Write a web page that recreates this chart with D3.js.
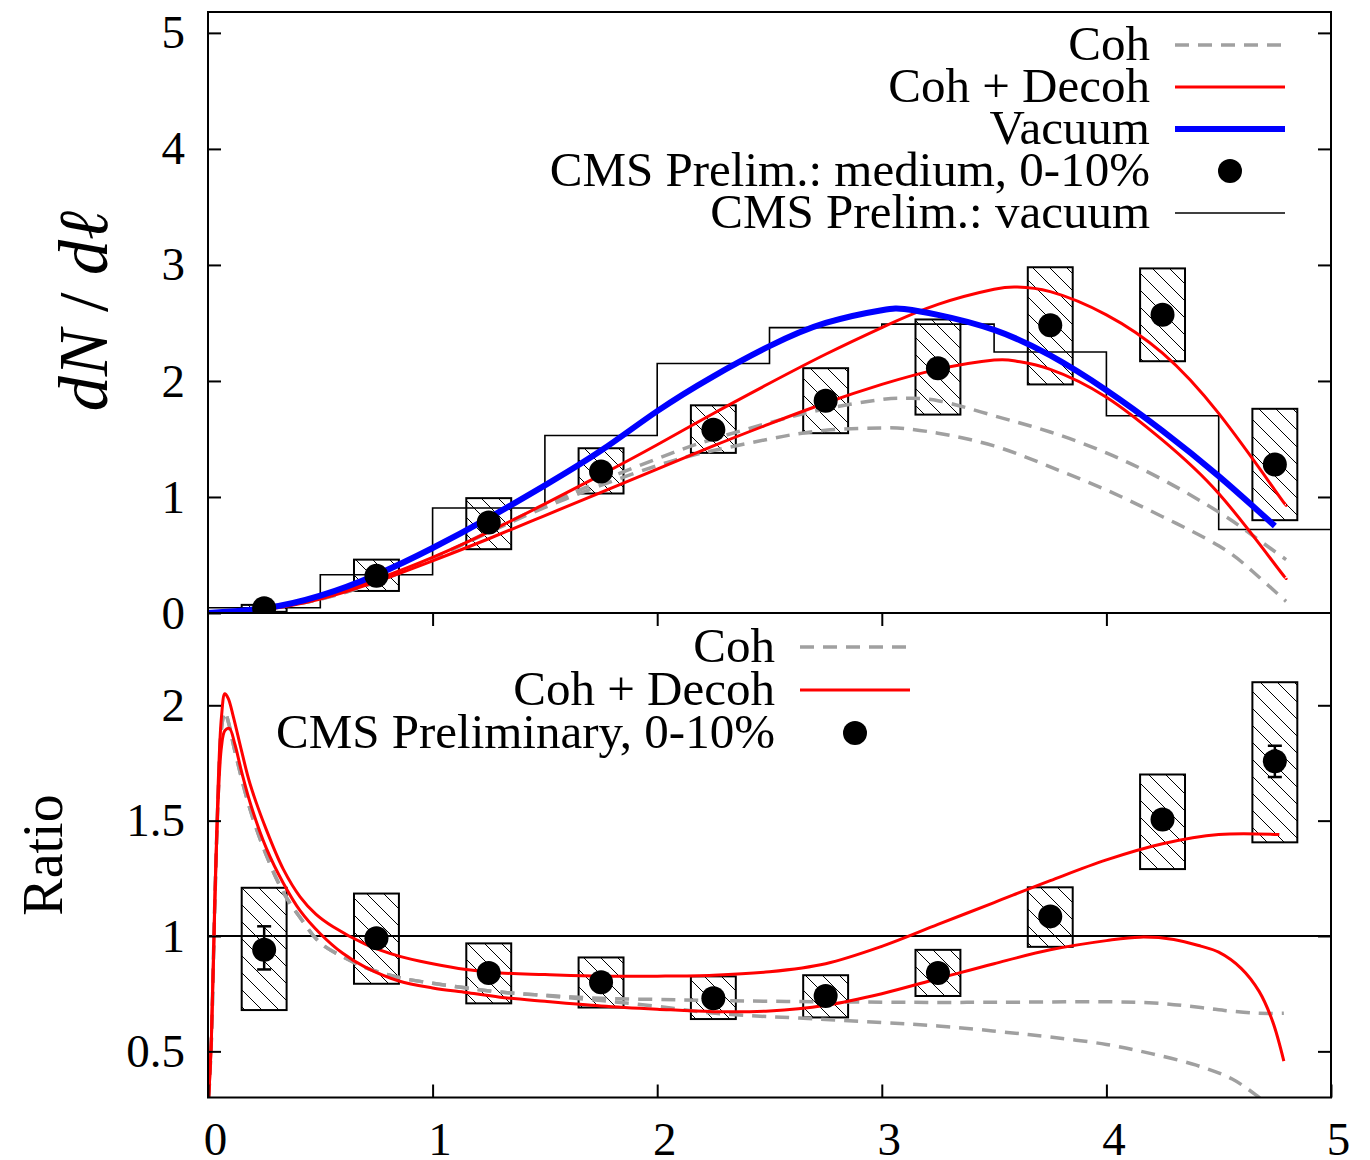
<!DOCTYPE html>
<html>
<head>
<meta charset="utf-8">
<script src="https://cdn.jsdelivr.net/npm/d3@7"></script>
<style>
  body { margin: 0; background: #fff; }
  text { font-family: "Liberation Serif", "Times New Roman", serif; }
</style>
</head>
<body>
<svg width="1370" height="1160"></svg>
<script>
// ---- data: top panel (dN/dl) ----
var binEdges = [0, 0.5, 1, 1.5, 2, 2.5, 3, 3.5, 4, 4.5, 5];
var vacHist = [0.045, 0.33, 0.905, 1.53, 2.15, 2.46, 2.49, 2.25, 1.70, 0.72];

var dataX = [0.25, 0.75, 1.25, 1.75, 2.25, 2.75, 3.25, 3.75, 4.25, 4.75];
var medY = [0.04, 0.32, 0.78, 1.22, 1.58, 1.83, 2.11, 2.48, 2.57, 1.28];
var medSysLo = [0.01, 0.19, 0.55, 1.03, 1.38, 1.55, 1.71, 1.97, 2.17, 0.80];
var medSysHi = [0.07, 0.46, 0.99, 1.42, 1.79, 2.11, 2.53, 2.98, 2.97, 1.76];

var vacX = [0, 0.25, 0.5, 0.75, 1, 1.25, 1.5, 1.75, 2, 2.25, 2.5, 2.75, 3, 3.1, 3.25, 3.5, 3.75, 4, 4.25, 4.5, 4.75];
var vacY = [0, 0.04, 0.15, 0.33, 0.56, 0.82, 1.1, 1.4, 1.74, 2.04, 2.3, 2.5, 2.61, 2.62, 2.57, 2.44, 2.22, 1.92, 1.57, 1.18, 0.75];

var decohX = [0, 0.25, 0.5, 0.75, 1, 1.25, 1.5, 1.75, 2, 2.25, 2.5, 2.75, 3, 3.25, 3.5, 3.6, 3.75, 4, 4.25, 4.5, 4.75, 4.8];
var decohY1 = [0, 0.03, 0.13, 0.29, 0.48, 0.7, 0.94, 1.19, 1.45, 1.72, 1.98, 2.23, 2.46, 2.66, 2.79, 2.81, 2.77, 2.57, 2.24, 1.72, 1.06, 0.93];
var decohY2 = [0, 0.03, 0.12, 0.27, 0.45, 0.64, 0.84, 1.04, 1.24, 1.44, 1.63, 1.81, 1.97, 2.1, 2.18, 2.17, 2.1, 1.86, 1.49, 1.03, 0.42, 0.30];

var cohX = [0, 0.5, 1, 1.5, 2, 2.25, 2.5, 2.75, 3, 3.1, 3.25, 3.5, 3.75, 4, 4.25, 4.5, 4.65, 4.8];
var cohY1 = [0, 0.12, 0.47, 0.93, 1.33, 1.5, 1.64, 1.76, 1.84, 1.85, 1.83, 1.7, 1.56, 1.38, 1.15, 0.87, 0.67, 0.46];
var cohY2 = [0, 0.12, 0.47, 0.91, 1.27, 1.4, 1.5, 1.575, 1.595, 1.59, 1.55, 1.44, 1.26, 1.06, 0.83, 0.58, 0.36, 0.10];

// ---- data: bottom panel (ratio) ----
var ratioY = [0.94, 0.99, 0.84, 0.80, 0.73, 0.74, 0.84, 1.085, 1.505, 1.757];
var ratioErrLo = [0.855, 0.97, 0.82, 0.78, 0.71, 0.72, 0.82, 1.06, 1.47, 1.689];
var ratioErrHi = [1.042, 1.01, 0.86, 0.82, 0.75, 0.76, 0.86, 1.11, 1.54, 1.825];
var ratioSysLo = [0.679, 0.793, 0.708, 0.69, 0.64, 0.647, 0.74, 0.953, 1.29, 1.406];
var ratioSysHi = [1.209, 1.184, 0.968, 0.907, 0.825, 0.83, 0.94, 1.211, 1.70, 2.10];

var rDecohX1 = [0.003, 0.015, 0.03, 0.045, 0.06, 0.075, 0.09, 0.113, 0.15, 0.187, 0.26, 0.335, 0.41, 0.48, 0.557, 0.7, 0.85, 1, 1.15, 1.3, 1.5, 1.75, 2, 2.25, 2.5, 2.75, 3, 3.25, 3.5, 3.75, 4, 4.25, 4.5, 4.77];
var rDecohY1 = [0.3, 0.55, 1.15, 1.65, 1.95, 2.05, 2.03, 1.95, 1.80, 1.66, 1.46, 1.29, 1.17, 1.095, 1.04, 0.965, 0.913, 0.88, 0.855, 0.84, 0.833, 0.826, 0.826, 0.83, 0.845, 0.88, 0.955, 1.05, 1.145, 1.24, 1.33, 1.40, 1.44, 1.44];
var rDecohX2 = [0.003, 0.015, 0.03, 0.045, 0.06, 0.075, 0.095, 0.12, 0.15, 0.19, 0.26, 0.335, 0.41, 0.5, 0.6, 0.7, 0.85, 1, 1.15, 1.3, 1.5, 1.75, 2, 2.25, 2.5, 2.75, 3, 3.25, 3.5, 3.75, 4, 4.15, 4.3, 4.42, 4.5, 4.6, 4.68, 4.74, 4.79];
var rDecohY2 = [0.3, 0.55, 1.12, 1.58, 1.82, 1.89, 1.90, 1.83, 1.71, 1.57, 1.38, 1.23, 1.11, 1.01, 0.925, 0.865, 0.805, 0.775, 0.755, 0.735, 0.717, 0.697, 0.683, 0.672, 0.675, 0.70, 0.75, 0.815, 0.88, 0.94, 0.98, 0.995, 0.985, 0.956, 0.93, 0.86, 0.76, 0.63, 0.458];

var rCohX1 = [0.003, 0.015, 0.03, 0.045, 0.06, 0.075, 0.09, 0.12, 0.187, 0.26, 0.335, 0.41, 0.5, 0.6, 0.71, 0.85, 1, 1.15, 1.3, 1.52, 1.75, 2, 2.25, 2.75, 3.25, 3.53, 4.19, 4.42, 4.55, 4.68, 4.79];
var rCohY1 = [0.3, 0.55, 1.13, 1.6, 1.9, 1.97, 1.93, 1.80, 1.55, 1.35, 1.19, 1.08, 0.97, 0.91, 0.86, 0.82, 0.795, 0.775, 0.757, 0.742, 0.73, 0.725, 0.72, 0.715, 0.712, 0.713, 0.711, 0.69, 0.675, 0.665, 0.665];
var rCohX2 = [0.003, 0.015, 0.03, 0.045, 0.06, 0.075, 0.09, 0.12, 0.187, 0.26, 0.335, 0.41, 0.5, 0.6, 0.71, 0.85, 1, 1.15, 1.3, 1.52, 1.75, 2, 2.26, 2.71, 3.25, 3.53, 3.75, 4, 4.2, 4.4, 4.56, 4.68, 4.78];
var rCohY2 = [0.3, 0.55, 1.13, 1.6, 1.9, 1.97, 1.93, 1.80, 1.55, 1.35, 1.19, 1.08, 0.97, 0.91, 0.86, 0.82, 0.795, 0.775, 0.757, 0.74, 0.72, 0.695, 0.665, 0.64, 0.61, 0.585, 0.562, 0.53, 0.49, 0.44, 0.38, 0.30, 0.22];

var xTicks = [0, 1, 2, 3, 4, 5];
var yTopTicks = [0, 1, 2, 3, 4, 5];
var yBotTicks = [0.5, 1, 1.5, 2];

// ---- layout ----
var svg = d3.select("svg");
var plotL = 208, plotR = 1331, plotT = 12, plotM = 613, plotB = 1097.5;
var tick = 13;
var fontSize = 47;
var legendFont = 49;
var boxHalf = 0.1;

var x = d3.scaleLinear().domain([0, 5]).range([plotL, plotR]);
var yTop = d3.scaleLinear().domain([0, 5.18]).range([plotM, plotT]);
var yBot = d3.scaleLinear().domain([0.3, 2.4]).range([plotB, plotM]);

var defs = svg.append("defs");
var hatch = defs.append("pattern")
    .attr("id", "hatch")
    .attr("patternUnits", "userSpaceOnUse")
    .attr("width", 17).attr("height", 17);
hatch.append("path")
    .attr("d", "M0,0L17,17M-5,12L5,22M12,-5L22,5")
    .attr("stroke", "#000").attr("stroke-width", 1);

defs.append("clipPath").attr("id", "clipTop")
  .append("rect").attr("x", plotL).attr("y", plotT).attr("width", plotR - plotL).attr("height", plotM - plotT);
defs.append("clipPath").attr("id", "clipBot")
  .append("rect").attr("x", plotL).attr("y", plotM).attr("width", plotR - plotL).attr("height", plotB - plotM);

function zip(xs, ys) {
    return xs.map(function(d, i) { return [d, ys[i]]; });
}

function drawCurve(g, yScale, xs, ys, style, curve) {
    var line = d3.line()
        .x(function(d) { return x(d[0]); })
        .y(function(d) { return yScale(d[1]); })
        .curve(curve || d3.curveCatmullRom.alpha(0.5));
    g.append("path")
        .datum(zip(xs, ys))
        .attr("d", line)
        .attr("fill", "none")
        .attr("stroke", style.color)
        .attr("stroke-width", style.width)
        .attr("stroke-dasharray", style.dash || null)
        .attr("stroke-linejoin", "round")
        .attr("stroke-linecap", "butt");
}

function drawBoxes(g, yScale, lo, hi) {
    g.selectAll(null)
        .data(dataX)
        .enter().append("rect")
        .attr("x", function(d) { return x(d - boxHalf); })
        .attr("width", function(d) { return x(d + boxHalf) - x(d - boxHalf); })
        .attr("y", function(d, i) { return yScale(hi[i]); })
        .attr("height", function(d, i) { return yScale(lo[i]) - yScale(hi[i]); })
        .attr("fill", "url(#hatch)")
        .attr("stroke", "#000")
        .attr("stroke-width", 2);
}

function drawDots(g, yScale, ys) {
    g.selectAll(null)
        .data(dataX)
        .enter().append("circle")
        .attr("cx", function(d) { return x(d); })
        .attr("cy", function(d, i) { return yScale(ys[i]); })
        .attr("r", 12)
        .attr("fill", "#000");
}

var gray = {color: "#a0a0a0", width: 3.5, dash: "14,9"};
var red = {color: "#ff0000", width: 3};
var blue = {color: "#0000ff", width: 6};

// ---- top panel ----
var gTop = svg.append("g").attr("clip-path", "url(#clipTop)");

var histPts = binEdges.map(function(e, i) { return [e, i < vacHist.length ? vacHist[i] : vacHist[vacHist.length - 1]]; });
gTop.append("path")
    .datum(histPts)
    .attr("d", d3.line()
        .x(function(d) { return x(d[0]); })
        .y(function(d) { return yTop(d[1]); })
        .curve(d3.curveStepAfter))
    .attr("fill", "none")
    .attr("stroke", "#000")
    .attr("stroke-width", 1.6);

drawBoxes(gTop, yTop, medSysLo, medSysHi);
drawCurve(gTop, yTop, cohX, cohY1, gray, d3.curveNatural);
drawCurve(gTop, yTop, cohX, cohY2, gray, d3.curveNatural);
drawCurve(gTop, yTop, decohX, decohY1, red, d3.curveNatural);
drawCurve(gTop, yTop, decohX, decohY2, red, d3.curveNatural);
drawCurve(gTop, yTop, vacX, vacY, blue, d3.curveNatural);
drawDots(gTop, yTop, medY);

// ---- bottom panel ----
var gBot = svg.append("g").attr("clip-path", "url(#clipBot)");
drawBoxes(gBot, yBot, ratioSysLo, ratioSysHi);
gBot.append("line")
    .attr("x1", plotL).attr("x2", plotR)
    .attr("y1", yBot(1)).attr("y2", yBot(1))
    .attr("stroke", "#000").attr("stroke-width", 2);
drawCurve(gBot, yBot, rCohX1, rCohY1, gray);
drawCurve(gBot, yBot, rCohX2, rCohY2, gray);
drawCurve(gBot, yBot, rDecohX1, rDecohY1, red);
drawCurve(gBot, yBot, rDecohX2, rDecohY2, red);

var errG = gBot.append("g").attr("stroke", "#000").attr("stroke-width", 2.5);
dataX.forEach(function(d, i) {
    var cx = x(d), y1 = yBot(ratioErrLo[i]), y2 = yBot(ratioErrHi[i]);
    errG.append("line").attr("x1", cx).attr("x2", cx).attr("y1", y1).attr("y2", y2);
    errG.append("line").attr("x1", cx - 7).attr("x2", cx + 7).attr("y1", y1).attr("y2", y1);
    errG.append("line").attr("x1", cx - 7).attr("x2", cx + 7).attr("y1", y2).attr("y2", y2);
});
drawDots(gBot, yBot, ratioY);

// ---- axes ----
function styleAxis(g) {
    g.select(".domain").remove();
    g.selectAll("line").attr("stroke", "#000").attr("stroke-width", 2);
    g.selectAll("text")
        .attr("font-family", "'Liberation Serif', 'Times New Roman', serif")
        .attr("font-size", fontSize)
        .attr("fill", "#000");
}

svg.append("g").attr("transform", "translate(" + plotL + ",0)")
    .call(d3.axisLeft(yTop).tickValues(yTopTicks).tickSize(-tick).tickPadding(23).tickFormat(d3.format("d")))
    .call(styleAxis);
svg.append("g").attr("transform", "translate(" + plotR + ",0)")
    .call(d3.axisRight(yTop).tickValues(yTopTicks.slice(1)).tickSize(-tick).tickFormat(""))
    .call(styleAxis);

svg.append("g").attr("transform", "translate(" + plotL + ",0)")
    .call(d3.axisLeft(yBot).tickValues(yBotTicks).tickSize(-tick).tickPadding(23).tickFormat(function(d) { return String(d); }))
    .call(styleAxis);
svg.append("g").attr("transform", "translate(" + plotR + ",0)")
    .call(d3.axisRight(yBot).tickValues(yBotTicks).tickSize(-tick).tickFormat(""))
    .call(styleAxis);

svg.append("g").attr("transform", "translate(0," + plotB + ")")
    .call(d3.axisBottom(x).tickValues(xTicks).tickSize(-tick).tickPadding(24).tickFormat(d3.format("d")))
    .call(styleAxis)
    .selectAll("text").attr("dx", 7);
svg.append("g").attr("transform", "translate(0," + plotM + ")")
    .call(d3.axisTop(x).tickValues(xTicks.slice(1, 5)).tickSize(-tick).tickFormat(""))
    .call(styleAxis);

// frames
[[plotT, plotM], [plotM, plotB]].forEach(function(p) {
    svg.append("rect")
        .attr("x", plotL).attr("y", p[0])
        .attr("width", plotR - plotL).attr("height", p[1] - p[0])
        .attr("fill", "none").attr("stroke", "#000").attr("stroke-width", 2);
});

// ---- axis titles ----
var yt = svg.append("text")
    .attr("transform", "translate(107,311) rotate(-90)")
    .attr("text-anchor", "middle")
    .attr("font-size", 70)
    .attr("fill", "#000");
yt.append("tspan").attr("font-style", "italic").text("dN");
yt.append("tspan").text(" / ");
yt.append("tspan").attr("font-style", "italic").text("d\u2113");

svg.append("text")
    .attr("transform", "translate(62,855) rotate(-90)")
    .attr("text-anchor", "middle")
    .attr("font-size", 56)
    .attr("fill", "#000")
    .text("Ratio");

// ---- legends ----
function legend(entries, textX, x1, x2, rowY, step) {
    entries.forEach(function(e, i) {
        var cy = rowY + i * step;
        svg.append("text")
            .attr("x", textX).attr("y", cy + 15)
            .attr("text-anchor", "end")
            .attr("font-size", legendFont)
            .attr("fill", "#000")
            .text(e.label);
        if (e.dot) {
            svg.append("circle").attr("cx", (x1 + x2) / 2).attr("cy", cy).attr("r", 12).attr("fill", "#000");
        } else {
            svg.append("line")
                .attr("x1", x1).attr("x2", x2).attr("y1", cy).attr("y2", cy)
                .attr("stroke", e.style.color)
                .attr("stroke-width", e.style.width)
                .attr("stroke-dasharray", e.style.dash || null);
        }
    });
}

legend([
    {label: "Coh", style: gray},
    {label: "Coh + Decoh", style: red},
    {label: "Vacuum", style: blue},
    {label: "CMS Prelim.:  medium, 0-10%", dot: true},
    {label: "CMS Prelim.:  vacuum", style: {color: "#000", width: 1.6}}
], 1150, 1175, 1285, 45, 42);

legend([
    {label: "Coh", style: gray},
    {label: "Coh + Decoh", style: red},
    {label: "CMS Preliminary, 0-10%", dot: true}
], 775, 800, 910, 647, 43);
</script>
</body>
</html>
